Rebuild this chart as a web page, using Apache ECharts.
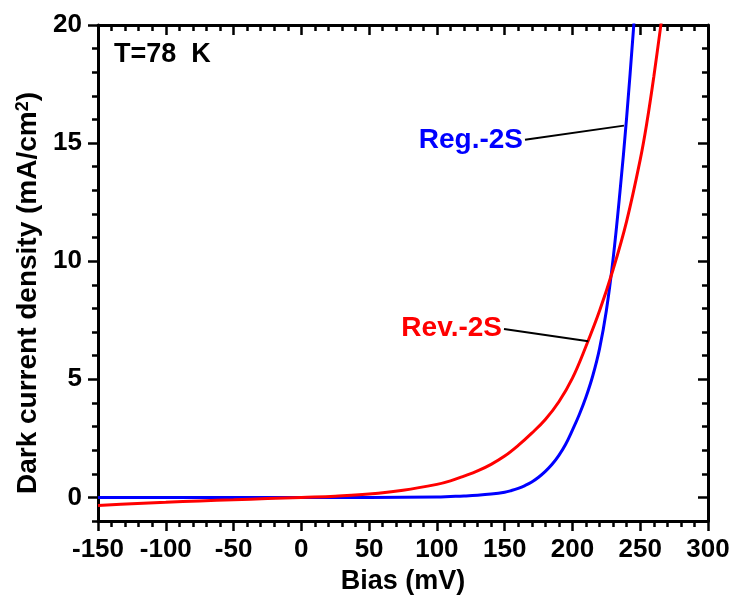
<!DOCTYPE html>
<html>
<head>
<meta charset="utf-8">
<script src="https://cdn.jsdelivr.net/npm/echarts@6/dist/echarts.min.js"></script>
<style>
  html, body { margin: 0; padding: 0; background: #fff; }
  #chart { width: 733px; height: 598px; }
</style>
</head>
<body>
<div id="chart"></div>
<script>
// Dark current density (mA/cm²) versus bias (mV) at 78 K
const biasReg = [-150, -100, -50, 0, 50, 100, 110, 120, 130, 140, 150, 155, 160, 165, 170, 175, 180, 185, 190, 195, 200, 205, 210, 215, 220, 225, 230, 235, 240, 245, 246];
const currentReg = [0.0, 0.0, 0.0, 0.0, 0.0, 0.02, 0.04, 0.06, 0.09, 0.14, 0.22, 0.29, 0.38, 0.5, 0.65, 0.85, 1.1, 1.4, 1.78, 2.25, 2.85, 3.5, 4.25, 5.15, 6.3, 7.9, 10.1, 12.9, 16.1, 19.8, 20.6];

const biasRev = [-150, -125, -100, -75, -50, -25, 0, 25, 50, 75, 100, 110, 120, 130, 140, 150, 160, 170, 180, 190, 200, 210, 220, 230, 240, 250, 255, 260, 265, 267];
const currentRev = [-0.34, -0.27, -0.21, -0.15, -0.1, -0.05, 0.0, 0.05, 0.14, 0.3, 0.55, 0.7, 0.9, 1.12, 1.4, 1.75, 2.2, 2.72, 3.3, 4.05, 5.05, 6.4, 7.9, 9.65, 11.7, 14.3, 15.9, 17.8, 19.9, 20.7];

// Axis ranges and labelled tick values
const biasRange = [-150, 300];
const biasStep = 50;
const currentRange = [-1, 20];
const currentMajorTicks = [0, 5, 10, 15, 20];

// Leader lines for the curve labels: [bias, current] at label end and curve end
const regLeader = [[165, 15.14], [238, 15.74]];
const revLeader = [[149.5, 7.13], [211.7, 6.61]];

const FONT = "'Liberation Sans', Arial, Helvetica, sans-serif";
const BLACK = '#000';

const axisLineStyle = { show: true, onZero: false, lineStyle: { color: BLACK, width: 3 } };
const hiddenAxisLine = { show: false, onZero: false };
const majorTickStyle = { color: BLACK, width: 2.5 };
const minorTickStyle = { color: BLACK, width: 2.5 };

function pairs(xs, ys) {
  return xs.map((x, i) => [x, ys[i]]);
}

function leaderLine(points, text, color) {
  return {
    silent: true,
    symbol: ['none', 'none'],
    animation: false,
    lineStyle: { color: BLACK, width: 2, type: 'solid' },
    emphasis: { disabled: true },
    label: {
      show: true,
      position: 'start',
      distance: 2,
      formatter: text,
      color: color,
      fontFamily: FONT,
      fontWeight: 'bold',
      fontSize: 28
    },
    data: [[{ coord: points[0] }, { coord: points[1] }]]
  };
}

const chart = echarts.init(document.getElementById('chart'), null, { renderer: 'canvas' });

const option = {
  animation: false,
  backgroundColor: '#fff',
  title: {
    text: 'T=78  K',
    left: 114,
    top: 41,
    padding: 0,
    textStyle: { fontFamily: FONT, fontWeight: 'bold', fontSize: 27, color: BLACK }
  },
  grid: {
    left: 98,
    right: 25,
    top: 25,
    bottom: 77,
    containLabel: false,
    outerBoundsMode: 'none'
  },
  xAxis: [
    {
      type: 'value',
      position: 'bottom',
      min: biasRange[0],
      max: biasRange[1],
      interval: biasStep,
      axisLine: axisLineStyle,
      axisTick: { show: true, inside: false, length: 10, lineStyle: majorTickStyle },
      minorTick: { show: true, splitNumber: 5, length: 6, lineStyle: minorTickStyle },
      splitLine: { show: false },
      axisLabel: {
        show: true, margin: 16, color: BLACK,
        fontFamily: FONT, fontWeight: 'bold', fontSize: 26
      },
      name: 'Bias (mV)',
      nameLocation: 'middle',
      nameGap: 42,
      nameTextStyle: { fontFamily: FONT, fontWeight: 'bold', fontSize: 27, color: BLACK }
    },
    {
      type: 'value',
      position: 'top',
      min: biasRange[0],
      max: biasRange[1],
      interval: biasStep,
      axisLine: axisLineStyle,
      axisTick: { show: true, inside: true, length: 10, lineStyle: majorTickStyle },
      minorTick: { show: true, splitNumber: 5, length: 6, lineStyle: minorTickStyle },
      splitLine: { show: false },
      axisLabel: { show: false }
    }
  ],
  yAxis: [
    {
      // left axis: line and unit ticks
      type: 'value',
      position: 'left',
      min: currentRange[0],
      max: currentRange[1],
      interval: 1,
      axisLine: axisLineStyle,
      axisTick: { show: true, inside: false, length: 6, lineStyle: minorTickStyle },
      splitLine: { show: false },
      axisLabel: { show: false }
    },
    {
      // left axis: labelled ticks and title
      type: 'value',
      position: 'left',
      min: currentRange[0],
      max: currentRange[1],
      axisLine: hiddenAxisLine,
      axisTick: { show: true, inside: false, length: 10, customValues: currentMajorTicks, lineStyle: majorTickStyle },
      splitLine: { show: false },
      axisLabel: {
        show: true, margin: 16, color: BLACK, customValues: currentMajorTicks,
        fontFamily: FONT, fontWeight: 'bold', fontSize: 26
      },
      name: 'Dark current density (mA/cm{sup|2})',
      nameLocation: 'middle',
      nameGap: 55,
      nameTextStyle: {
        fontFamily: FONT, fontWeight: 'bold', fontSize: 28, color: BLACK,
        // extra room on the reading end moves the title toward the bottom
        padding: [0, 40, 0, 0],
        rich: {
          sup: {
            fontFamily: FONT, fontWeight: 'bold', fontSize: 18, color: BLACK,
            verticalAlign: 'top', padding: [0, 0, 10, 0]
          }
        }
      }
    },
    {
      // right axis: line and unit ticks
      type: 'value',
      position: 'right',
      min: currentRange[0],
      max: currentRange[1],
      interval: 1,
      axisLine: axisLineStyle,
      axisTick: { show: true, inside: true, length: 6, lineStyle: minorTickStyle },
      splitLine: { show: false },
      axisLabel: { show: false }
    },
    {
      // right axis: longer ticks
      type: 'value',
      position: 'right',
      min: currentRange[0],
      max: currentRange[1],
      axisLine: hiddenAxisLine,
      axisTick: { show: true, inside: true, length: 10, customValues: currentMajorTicks, lineStyle: majorTickStyle },
      splitLine: { show: false },
      axisLabel: { show: false, customValues: currentMajorTicks }
    }
  ],
  series: [
    {
      name: 'Reg.-2S',
      type: 'line',
      xAxisIndex: 0,
      yAxisIndex: 0,
      data: pairs(biasReg, currentReg),
      showSymbol: false,
      smooth: 0.4,
      clip: true,
      lineStyle: { color: '#0000ff', width: 3 },
      itemStyle: { color: '#0000ff' },
      markLine: leaderLine(regLeader, 'Reg.-2S', '#0000ff')
    },
    {
      name: 'Rev.-2S',
      type: 'line',
      xAxisIndex: 0,
      yAxisIndex: 0,
      data: pairs(biasRev, currentRev),
      showSymbol: false,
      smooth: 0.4,
      clip: true,
      lineStyle: { color: '#ff0000', width: 3 },
      itemStyle: { color: '#ff0000' },
      markLine: leaderLine(revLeader, 'Rev.-2S', '#ff0000')
    }
  ]
};

chart.setOption(option);
</script>
</body>
</html>
